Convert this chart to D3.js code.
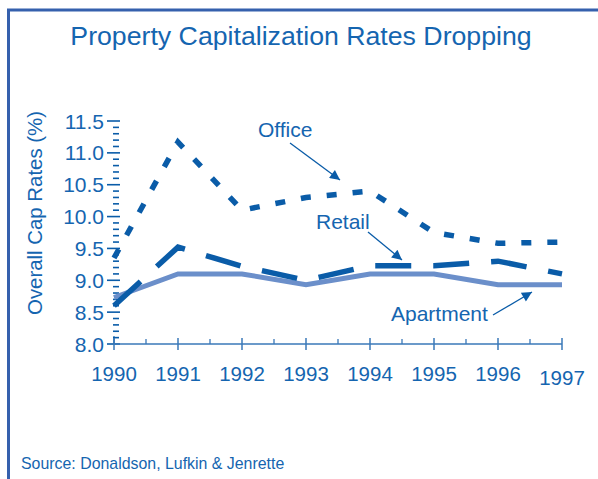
<!DOCTYPE html>
<html><head><meta charset="utf-8">
<script src="https://cdn.jsdelivr.net/npm/d3@7"></script>
<style>body{margin:0;background:#fff}svg{display:block}text{font-family:"Liberation Sans",Arial,sans-serif}</style>
</head><body><svg id="c" width="598" height="479"></svg>
<script>
const years = [1990,1991,1992,1993,1994,1995,1996,1997];
const office = [9.35,11.17,10.1,10.3,10.4,9.75,9.58,9.6];
const retail = [8.6,9.52,9.22,9.0,9.23,9.23,9.3,9.1];
const apartment = [8.73,9.1,9.1,8.93,9.1,9.1,8.93,8.93];
const yTicks = [8.0,8.5,9.0,9.5,10.0,10.5,11.0,11.5];

const txt = "#1565b0", dark = "#0a5ca8", light = "#6b8fca";
const svg = d3.select("#c");
const x = d3.scaleLinear().domain([1990,1997]).range([114,562]);
const y = d3.scaleLinear().domain([8,11.5]).range([344,121]);

// frame
svg.append("path").attr("d","M8.5,479V10H598").attr("fill","none").attr("stroke","#3560ad").attr("stroke-width",3);

svg.append("text").attr("x",301).attr("y",45).attr("text-anchor","middle").attr("fill",txt)
  .attr("font-size",26.7).text("Property Capitalization Rates Dropping");

// y axis ticks
const minor = d3.range(8.1,11.5,0.1).map(v=>+v.toFixed(1)).filter(v=>!yTicks.includes(v));
svg.append("g").selectAll("line").data(minor).join("line")
  .attr("x1",113).attr("x2",119).attr("y1",d=>y(d)).attr("y2",d=>y(d)).attr("stroke",dark).attr("stroke-width",1.6);
svg.append("g").selectAll("line").data(yTicks).join("line")
  .attr("x1",107).attr("x2",120).attr("y1",d=>y(d)).attr("y2",d=>y(d)).attr("stroke",dark).attr("stroke-width",1.6);
svg.append("line").attr("x1",114).attr("x2",114).attr("y1",y(8)).attr("y2",y(8.12)).attr("stroke",dark).attr("stroke-width",1.4);
svg.append("g").selectAll("text").data(yTicks).join("text")
  .attr("x",104).attr("y",d=>y(d)+7.5).attr("text-anchor","end").attr("fill",txt).attr("font-size",21)
  .text(d=>d.toFixed(1));

// x axis
svg.append("line").attr("x1",x(1990)).attr("x2",x(1997)).attr("y1",344).attr("y2",344).attr("stroke","#3a78b8").attr("stroke-width",1.5);
svg.append("g").selectAll("line").data(years).join("line")
  .attr("x1",d=>x(d)).attr("x2",d=>x(d)).attr("y1",338).attr("y2",350).attr("stroke","#3a78b8").attr("stroke-width",1.5);
svg.append("g").selectAll("line").data(years.slice(0,-1).map(d=>d+0.5)).join("line")
  .attr("x1",d=>x(d)).attr("x2",d=>x(d)).attr("y1",339).attr("y2",344).attr("stroke","#3a78b8").attr("stroke-width",1.3);
svg.append("g").selectAll("text").data(years).join("text")
  .attr("x",d=>x(d)).attr("y",d=>d===1997?385:381).attr("text-anchor","middle").attr("fill",txt).attr("font-size",20.5)
  .text(d=>d);

svg.append("text").attr("transform","translate(42,213) rotate(-90)").attr("text-anchor","middle")
  .attr("fill",txt).attr("font-size",20.4).text("Overall Cap Rates (%)");

const line = d3.line().x((d,i)=>x(years[i])).y(d=>y(d));
svg.append("path").datum(apartment).attr("d",line).attr("fill","none").attr("stroke",light).attr("stroke-width",5);
svg.append("path").datum(retail).attr("d",line).attr("fill","none").attr("stroke",dark).attr("stroke-width",5.5).attr("stroke-dasharray","36,22");
svg.append("path").datum(office).attr("d",line).attr("fill","none").attr("stroke",dark).attr("stroke-width",5.5).attr("stroke-dasharray","10,16");

// labels + arrows
svg.append("defs").append("marker").attr("id","ah").attr("viewBox","0 0 10 10").attr("refX",10).attr("refY",5)
  .attr("markerWidth",14).attr("markerHeight",10).attr("markerUnits","userSpaceOnUse").attr("orient","auto")
  .append("path").attr("d","M0,0L10,5L0,10Z").attr("fill",dark);
const labels = [
  {t:"Office", x:258, y:137, a:[290,143,340,180]},
  {t:"Retail", x:316, y:229, a:[368,232,402,260]},
  {t:"Apartment", x:391, y:321, a:[493,315,532,292]}
];
labels.forEach(l=>{
  svg.append("text").attr("x",l.x).attr("y",l.y).attr("fill",txt).attr("font-size",21).text(l.t);
  svg.append("line").attr("x1",l.a[0]).attr("y1",l.a[1]).attr("x2",l.a[2]).attr("y2",l.a[3])
    .attr("stroke",dark).attr("stroke-width",1.3).attr("marker-end","url(#ah)");
});

svg.append("text").attr("x",21).attr("y",469).attr("fill",txt).attr("font-size",15.9).text("Source: Donaldson, Lufkin & Jenrette");
</script></body></html>
